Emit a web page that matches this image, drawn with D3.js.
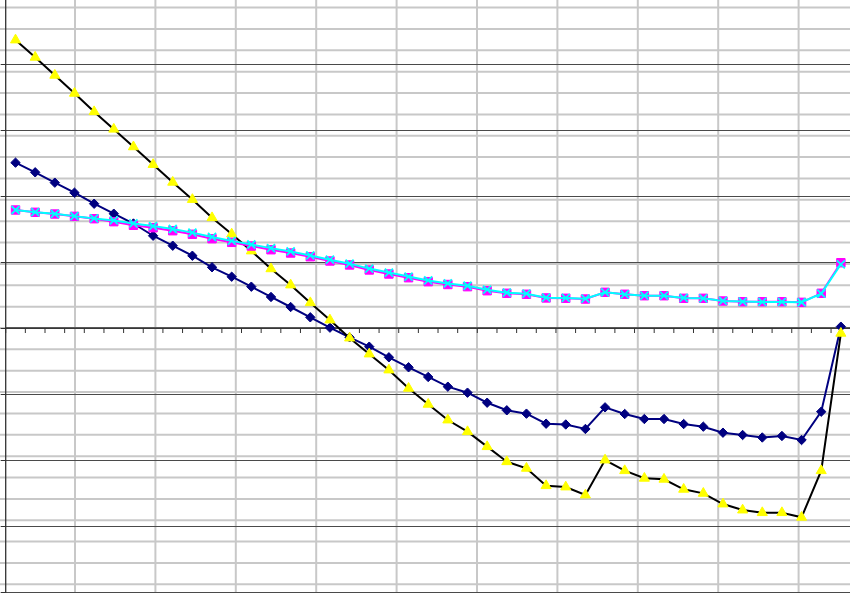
<!doctype html>
<html lang="en">
<head>
<meta charset="UTF-8">
<script src="https://cdn.jsdelivr.net/npm/d3@7"></script>
<title>Chart</title>
<style>
  body { margin: 0; background: #fff; }
  svg { display: block; }
</style>
</head>
<body>
<div class="container"></div>
<script>
    // categories 1..43
    let categories = [];
    for (let i = 1; i <= 43; i++) categories.push(String(i));

    // navy diamonds
    let seriesNavy = [25.05, 23.59, 22.02, 20.50, 18.83, 17.32, 15.83, 13.98, 12.47, 10.95,
        9.20, 7.77, 6.26, 4.70, 3.18, 1.62, 0.05, -1.41, -2.83, -4.44,
        -5.95, -7.42, -8.89, -9.80, -11.32, -12.47, -12.98, -14.50, -14.62, -15.30,
        -12.02, -13.03, -13.79, -13.79, -14.55, -14.95, -15.86, -16.21, -16.59, -16.36,
        -16.97, -12.68, 0.20];
    // magenta squares
    let seriesMagenta = [17.88, 17.53, 17.27, 16.92, 16.56, 16.11, 15.56, 15.20, 14.74, 14.20,
        13.53, 12.98, 12.42, 11.86, 11.36, 10.80, 10.15, 9.55, 8.79, 8.18,
        7.62, 7.02, 6.59, 6.26, 5.65, 5.26, 5.11, 4.55, 4.50, 4.39,
        5.41, 5.11, 4.89, 4.89, 4.50, 4.50, 4.09, 3.98, 3.98, 3.98,
        3.89, 5.26, 9.89];
    // yellow triangles (black line)
    let seriesYellow = [43.64, 41.02, 38.29, 35.56, 32.77, 30.12, 27.45, 24.77, 22.08, 19.47,
        16.71, 14.24, 11.67, 8.97, 6.52, 3.83, 1.21, -1.52, -3.94, -6.36,
        -9.14, -11.56, -13.94, -15.71, -17.98, -20.26, -21.26, -23.89, -24.09, -25.30,
        -20.00, -21.62, -22.77, -22.92, -24.44, -25.05, -26.67, -27.58, -27.98, -27.98,
        -28.68, -21.62, -0.80];
    // cyan crosses
    let seriesCyan = [17.88, 17.55, 17.30, 16.95, 16.60, 16.30, 15.85, 15.45, 15.00, 14.45,
        13.80, 13.20, 12.65, 12.10, 11.60, 11.00, 10.35, 9.75, 9.00, 8.40,
        7.80, 7.20, 6.75, 6.40, 5.80, 5.35, 5.20, 4.60, 4.55, 4.45,
        5.40, 5.10, 4.90, 4.90, 4.55, 4.50, 4.10, 4.00, 3.95, 3.95,
        3.90, 5.20, 9.65];
    let yTicks = [-40, -30, -20, -10, 0, 10, 20, 30, 40, 50];

    let w = 850, h = 593;
    let svg = d3.select('.container').append('svg')
        .attr('width', w)
        .attr('height', h);

    // scales
    let x = d3.scaleBand().domain(categories).range([5.7, 850.7]).padding(0);
    let y = d3.scaleLinear().domain([-40, 50]).range([592, -2]);

    // worksheet cell grid behind the chart
    let colX = d3.scaleLinear().domain([0, 1]).range([75, 155.4]);
    let rowY = d3.scaleLinear().domain([0, 1]).range([328, 349.36]);
    let sheet = svg.append('g');
    sheet.selectAll('line.col')
        .data(d3.range(-1, 11))
        .enter().append('line')
        .attr('x1', d => colX(d)).attr('x2', d => colX(d))
        .attr('y1', 0).attr('y2', h)
        .attr('stroke', '#c8c8c8').attr('stroke-width', 2);
    sheet.selectAll('line.row')
        .data(d3.range(-16, 13))
        .enter().append('line')
        .attr('x1', 0).attr('x2', w)
        .attr('y1', d => rowY(d)).attr('y2', d => rowY(d))
        .attr('stroke', '#c8c8c8').attr('stroke-width', 2);

    // major gridlines
    svg.append('g')
        .attr('transform', 'translate(5.7,0)')
        .call(d3.axisLeft(y).tickValues(yTicks).tickSize(-845).tickFormat(''))
        .call(g => g.select('.domain').remove())
        .call(g => g.selectAll('line').attr('stroke', '#4a4a4a').attr('stroke-width', 1));
    // little outside ticks on value axis
    svg.append('g')
        .attr('transform', 'translate(5.7,0)')
        .call(d3.axisLeft(y).tickValues(yTicks).tickSize(5).tickFormat(''))
        .call(g => g.select('.domain').remove())
        .call(g => g.selectAll('line').attr('stroke', '#333'));

    // value axis line
    svg.append('line')
        .attr('x1', 5.7).attr('x2', 5.7)
        .attr('y1', 0).attr('y2', h)
        .attr('stroke', '#333').attr('stroke-width', 1.3);

    // category axis at zero, ticks between categories
    let xAxis = svg.append('g').attr('transform', 'translate(0,' + y(0) + ')');
    xAxis.append('line')
        .attr('x1', 5.7).attr('x2', w)
        .attr('stroke', '#333').attr('stroke-width', 1.3);
    xAxis.selectAll('line.tick')
        .data(categories)
        .enter().append('line')
        .attr('x1', d => x(d)).attr('x2', d => x(d))
        .attr('y1', 0).attr('y2', 5)
        .attr('stroke', '#333');

    let cx = (d, i) => x(categories[i]) + x.bandwidth() / 2;
    let line = d3.line().x((d, i) => cx(d, i)).y(d => y(d));

    function drawSeries(data, lineColor, markerPath, fill, stroke, sw) {
        svg.append('path')
            .datum(data)
            .attr('d', line)
            .attr('fill', 'none')
            .attr('stroke', lineColor)
            .attr('stroke-width', 2);
        svg.append('g').selectAll('path')
            .data(data)
            .enter().append('path')
            .attr('transform', (d, i) => 'translate(' + cx(d, i) + ',' + y(d) + ')')
            .attr('d', markerPath)
            .attr('fill', fill)
            .attr('stroke', stroke)
            .attr('stroke-width', sw);
    }

    let diamond = 'M0,-4.7L4.7,0L0,4.7L-4.7,0Z';
    let square = 'M-4.2,-4.2H4.2V4.2H-4.2Z';
    let tri = d3.symbol().type(d3.symbolTriangle).size(44)();
    let cross = 'M-4,-4L4,4M-4,4L4,-4';

    drawSeries(seriesNavy, '#000080', diamond, '#000080', '#000080', 1);
    drawSeries(seriesYellow, '#000000', tri, '#ffff00', '#ffff00', 1);
    drawSeries(seriesMagenta, '#ff00ff', square, '#ff00ff', '#ff00ff', 1);
    drawSeries(seriesCyan, '#00ffff', cross, 'none', '#00ffff', 1.8);
</script>
</body>
</html>
